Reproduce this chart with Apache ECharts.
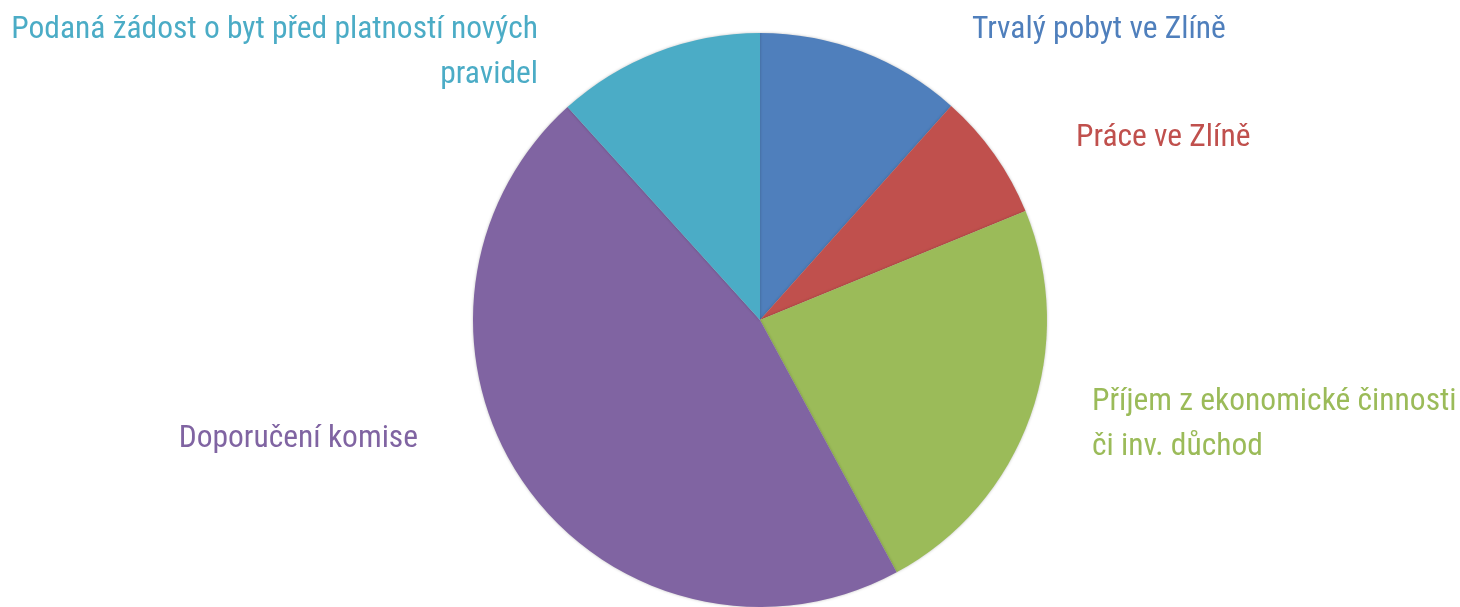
<!DOCTYPE html>
<html>
<head>
<meta charset="utf-8">
<script src="https://cdn.jsdelivr.net/npm/echarts@6/dist/echarts.min.js"></script>
<style>
html,body{margin:0;padding:0;background:#fff;}
#chart{width:1460px;height:607px;}
</style>
</head>
<body>
<div id="chart"></div>
<script>
const categories = [
  'Trvalý pobyt ve Zlíně',
  'Práce ve Zlíně',
  'Příjem z ekonomické činnosti\nči inv. důchod',
  'Doporučení komise',
  'Podaná žádost o byt před platností nových\npravidel'
];
const values = [11.6, 7.2, 23.3, 46.2, 11.7];
const colors = ['#4F7FBC', '#C0504D', '#9BBB59', '#8064A2', '#4BACC6'];

// label placement (layout only)
const labelPos = [
  {x: 972, y: 30, align: 'left'},
  {x: 1076, y: 138, align: 'left'},
  {x: 1092, y: 425, align: 'left'},
  {x: 418, y: 439, align: 'right'},
  {x: 538, y: 53, align: 'right'}
];

const chart = echarts.init(document.getElementById('chart'), null, {renderer: 'canvas'});
chart.setOption({
  animation: false,
  series: [{
    type: 'pie',
    center: [760, 320],
    radius: 287,
    startAngle: 90,
    clockwise: true,
    data: categories.map((n, i) => ({
      name: n,
      value: values[i],
      itemStyle: {color: colors[i]},
      label: {color: colors[i], align: labelPos[i].align}
    })),
    itemStyle: {borderWidth: 0, shadowBlur: 3, shadowColor: 'rgba(0,0,0,0.25)'},
    label: {
      show: true,
      position: 'outside',
      formatter: '{b}',
      fontFamily: '"Roboto Condensed", "Liberation Sans Narrow", Roboto, sans-serif',
      fontSize: 31.5,
      lineHeight: 45,
      overflow: 'none'
    },
    labelLine: {show: false},
    labelLayout: function (p) {
      const lp = labelPos[p.dataIndex];
      return {x: lp.x, y: lp.y, align: lp.align, verticalAlign: 'middle', hideOverlap: false, moveOverlap: false};
    },
    emphasis: {disabled: true}
  }]
});
</script>
</body>
</html>
